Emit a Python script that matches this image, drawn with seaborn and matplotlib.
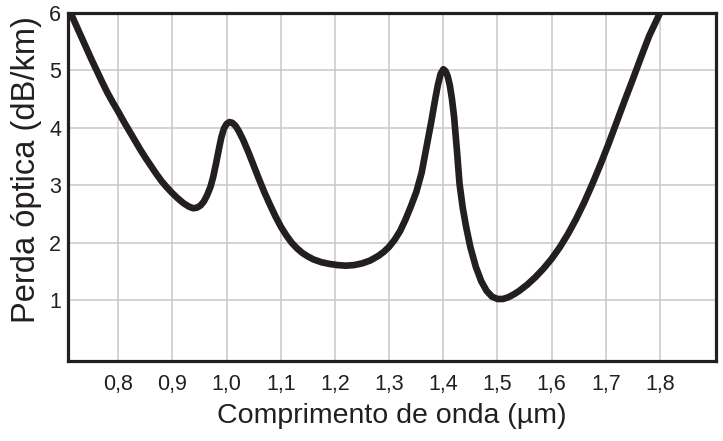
import pandas as pd
import seaborn as sns
import matplotlib
matplotlib.use("Agg")
import matplotlib.pyplot as plt

# curve (wavelength in um, loss in dB/km)
wavelength = [0.712, 0.720, 0.730, 0.740, 0.750, 0.760, 0.770, 0.780, 0.790, 0.800,
              0.810, 0.820, 0.830, 0.840, 0.850, 0.860, 0.870, 0.880, 0.890, 0.900,
              0.910, 0.920, 0.930, 0.938, 0.945, 0.952, 0.958, 0.964, 0.970, 0.975,
              0.980, 0.985, 0.990, 0.995, 1.000, 1.005, 1.010, 1.016, 1.022, 1.030,
              1.040, 1.050, 1.060, 1.070, 1.080, 1.090, 1.100, 1.110, 1.120, 1.130,
              1.140, 1.150, 1.160, 1.175, 1.190, 1.205, 1.220, 1.235, 1.250, 1.265,
              1.280, 1.290, 1.300, 1.310, 1.320, 1.330, 1.340, 1.350, 1.360, 1.370,
              1.378, 1.385, 1.390, 1.395, 1.400, 1.404, 1.408, 1.412, 1.416, 1.420,
              1.425, 1.430, 1.436, 1.442, 1.450, 1.460, 1.470, 1.480, 1.490, 1.500,
              1.510, 1.520, 1.530, 1.540, 1.555, 1.570, 1.585, 1.600, 1.615, 1.630,
              1.645, 1.660, 1.675, 1.690, 1.705, 1.720, 1.735, 1.750, 1.765, 1.780,
              1.790, 1.800]
loss = [6.00, 5.83, 5.62, 5.41, 5.20, 5.00, 4.80, 4.61, 4.44, 4.28,
        4.11, 3.95, 3.79, 3.63, 3.48, 3.34, 3.20, 3.07, 2.96, 2.86,
        2.77, 2.69, 2.63, 2.60, 2.61, 2.65, 2.72, 2.83, 2.97, 3.14,
        3.36, 3.60, 3.83, 3.99, 4.07, 4.10, 4.09, 4.04, 3.95, 3.80,
        3.58, 3.34, 3.10, 2.87, 2.66, 2.46, 2.28, 2.13, 2.00, 1.90,
        1.82, 1.76, 1.71, 1.66, 1.63, 1.61, 1.60, 1.61, 1.64, 1.69,
        1.77, 1.84, 1.93, 2.05, 2.20, 2.40, 2.63, 2.88, 3.22, 3.72,
        4.12, 4.50, 4.75, 4.94, 5.02, 4.99, 4.90, 4.74, 4.50, 4.18,
        3.62, 3.02, 2.60, 2.28, 1.92, 1.58, 1.33, 1.16, 1.06, 1.02,
        1.02, 1.05, 1.10, 1.16, 1.27, 1.40, 1.55, 1.72, 1.92, 2.15,
        2.41, 2.70, 3.02, 3.36, 3.72, 4.10, 4.48, 4.85, 5.23, 5.60,
        5.80, 6.00]

x_ticks = [0.8, 0.9, 1.0, 1.1, 1.2, 1.3, 1.4, 1.5, 1.6, 1.7, 1.8]
x_labels = ["0,8", "0,9", "1,0", "1,1", "1,2", "1,3", "1,4", "1,5", "1,6", "1,7", "1,8"]
y_ticks = [1, 2, 3, 4, 5, 6]

df = pd.DataFrame({"wl": wavelength, "loss": loss})

sns.set_style("whitegrid", {"grid.color": "#c8c8c8", "axes.edgecolor": "#231f20"})
plt.rcParams["font.family"] = ["Liberation Sans", "DejaVu Sans"]

fig = plt.figure(figsize=(7.23, 4.41), dpi=100)
ax = fig.add_axes([0.094, 0.181, 0.896, 0.7895])

sns.lineplot(data=df, x="wl", y="loss", ax=ax, color="#231f20", linewidth=4.8,
             sort=False, estimator=None, solid_capstyle="round", zorder=5)

ax.set_xlim(0.707, 1.903)
ax.set_ylim(-0.063, 6)
ax.set_xticks(x_ticks)
ax.set_xticklabels(x_labels)
ax.set_yticks(y_ticks)
ax.tick_params(length=0, labelsize=15.5, colors="#231f20")
ax.tick_params(axis="x", pad=9)
ax.tick_params(axis="y", pad=5)
ax.grid(True, linewidth=1.1)

for s in ax.spines.values():
    s.set_linewidth(2.3)
    s.set_color("#231f20")
    s.set_zorder(6)

ax.set_xlabel("Comprimento de onda (µm)", fontsize=20.5, color="#231f20", labelpad=6)
ax.set_ylabel("Perda óptica (dB/km)", fontsize=23.5, color="#231f20")
ax.yaxis.set_label_coords(-0.040, 0.55)

fig.savefig("out.png", dpi=100)
